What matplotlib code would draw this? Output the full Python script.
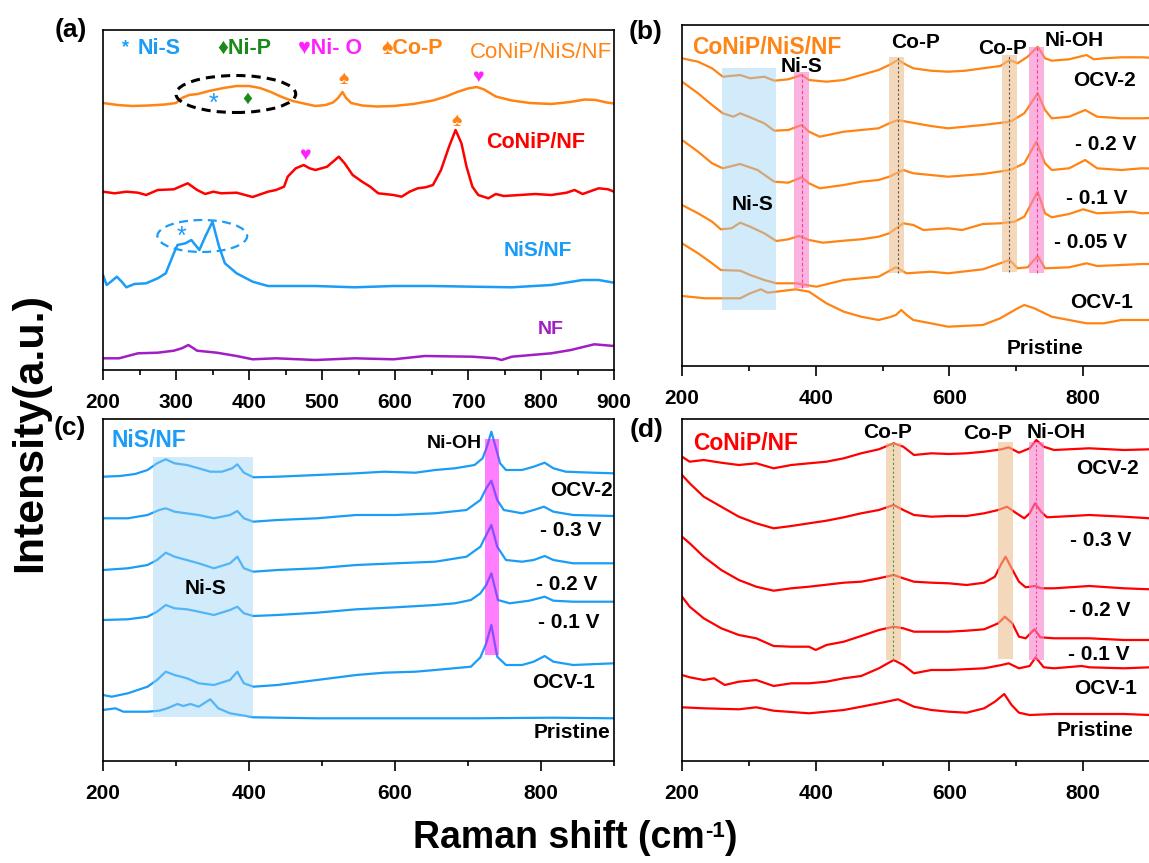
import matplotlib
matplotlib.use("Agg")
import matplotlib.pyplot as plt
from matplotlib.patches import Ellipse, Rectangle
from matplotlib.ticker import MultipleLocator

plt.rcParams["font.family"] = ["Liberation Sans", "DejaVu Sans"]
plt.rcParams["font.weight"] = "bold"

W, H = 1149, 863

ORANGE = "#ff8414"
RED = "#ff0000"
BLUE = "#1a9cf7"
PURPLE = "#a01ec4"
GREEN = "#1a8a1a"
MAGENTA = "#ff22ff"

# ---------------------------------------------------------------------------
# (a) reference spectra, stacked (a.u.)
# ---------------------------------------------------------------------------
A_CONIP_NIS_X = [200, 220, 240, 262, 285, 300, 308, 318, 330, 345, 365, 383, 400, 415, 430,
                 445, 460, 475, 491, 505, 515, 522, 528, 533, 540, 555, 575, 598, 625, 652,
                 670, 685, 700, 712, 722, 738, 760, 785, 814, 840, 860, 875, 890, 900]
A_CONIP_NIS_Y = [267, 265, 264, 264.5, 265.5, 267, 272, 275, 276, 279, 282, 284, 284, 282, 278,
                 273, 269, 266.5, 264, 265, 267.5, 272, 278, 272, 267, 264.5, 263.5, 264, 266, 269.5,
                 273.5, 278, 281.5, 283, 280.5, 273.5, 269.5, 267, 266, 268, 270.5, 270, 267.5, 266.5]

A_CONIP_X = [200, 216, 232, 248, 259, 275, 297, 316, 329, 340, 351, 362, 383, 405, 426, 437,
             448, 453, 464, 475, 483, 491, 507, 523, 531, 542, 555, 566, 577, 598, 609, 620,
             631, 642, 652, 663, 674, 683, 691, 698, 706, 714, 728, 738, 749, 771, 792, 814,
             835, 846, 857, 879, 892, 900]
A_CONIP_Y = [178.3, 176.7, 178.3, 177.3, 175, 180, 180.7, 186.7, 180, 176, 178.3, 176.7, 177.3, 173,
             178.3, 180, 183.3, 193.3, 201.7, 205, 201.7, 200, 203.3, 213.3, 206.7, 195, 188.3, 183.3,
             176.7, 175, 173.3, 178.3, 181.7, 182.7, 185, 200, 223.3, 240, 226.7, 203.3, 183.3, 175,
             171.7, 176, 174, 175, 176, 175, 177.3, 180, 176, 181.7, 180.7, 178.3]

A_NIS_X = [200, 205, 212, 219, 226, 232, 243, 259, 275, 286, 297, 302, 313, 321, 332, 340, 350,
           359, 367, 383, 405, 426, 491, 545, 598, 652, 706, 760, 814, 857, 879, 900]
A_NIS_Y = [95, 85, 89, 93.3, 88, 82.7, 86, 86.7, 91.7, 96.7, 116.7, 125, 126.7, 130, 120, 133.3, 148.3,
           123.3, 106.7, 96.7, 88.3, 84, 84, 82.7, 84, 84, 83.3, 82.7, 85, 90, 90, 87.3]

A_NF_X = [200, 222, 248, 275, 297, 308, 317, 329, 356, 383, 405, 437, 491, 545, 598, 641, 706,
          738, 746, 760, 814, 841, 873, 900]
A_NF_Y = [11.7, 11.7, 16.7, 17.3, 19.3, 21.7, 25, 19.3, 17.3, 14, 10.7, 11.7, 10, 11.7, 10.7, 14, 13.3,
          11.7, 10, 13.3, 16.7, 20, 25.7, 24]

# ---------------------------------------------------------------------------
# (b) CoNiP/NiS/NF in situ spectra
# ---------------------------------------------------------------------------
B_X1 = [200, 224, 245, 261, 287, 302, 323, 338, 359, 379, 390, 416, 442, 468, 494, 510, 523, 536,
        546, 572, 598, 624, 650, 676, 690, 702, 717, 732, 743, 753, 779, 805, 816, 831, 857, 888, 900]
B_OCV2 = [307.7, 304.3, 297.7, 289.3, 291, 287.7, 289.3, 285.3, 286.7, 291, 286, 284.3, 286, 291, 296,
          301, 306, 301, 297.7, 295.3, 294.3, 295.3, 297.7, 300, 306, 302.7, 309.3, 319.3, 307.7, 305.3,
          306.7, 311, 306.7, 307.7, 308.7, 308.7, 308.3]

B_X2 = [200, 224, 245, 261, 277, 287, 302, 323, 338, 359, 379, 390, 406, 442, 468, 494, 510, 523,
        536, 572, 598, 650, 691, 712, 732, 743, 753, 779, 803, 821, 857, 888, 900]
B_M02 = [284.3, 272.7, 261, 252.7, 249.3, 252.7, 248.7, 242.7, 235.3, 236, 241, 234.3, 229.3, 234.3,
         236, 237.7, 242.7, 246, 244.3, 240, 237.7, 241, 244.3, 252.7, 272.7, 256, 247.7, 249.3, 256,
         249.3, 247.7, 247.7, 248]

B_X3 = [200, 224, 245, 261, 287, 313, 338, 359, 379, 390, 406, 442, 468, 494, 510, 531, 546, 572,
        598, 650, 691, 712, 730, 743, 753, 779, 803, 821, 857, 888, 900]
B_M01 = [226, 214.3, 202.7, 197.7, 202, 196, 184.3, 183.3, 188.7, 182.7, 177.7, 181, 184.3, 186, 189.3,
         196, 192.7, 191, 189.3, 192, 196, 202.7, 224.3, 202.7, 196, 197.7, 206, 197.7, 196, 197.7, 197.5]

B_X4 = [200, 224, 245, 258, 274, 287, 302, 323, 341, 359, 375, 390, 411, 442, 468, 494, 510, 531,
        546, 561, 598, 619, 650, 676, 697, 712, 732, 743, 753, 779, 800, 821, 873, 888, 900]
B_M005 = [161, 152.7, 144.3, 136.7, 137.7, 143.3, 139.3, 132.7, 125, 126.7, 130, 126, 123.3, 125.3,
          126.7, 129.3, 132.7, 142.7, 141, 136, 137.7, 136, 142, 142.7, 144.3, 149.3, 174.3, 152.7,
          148.7, 152, 156.7, 152.7, 154.3, 152.7, 153]

B_X5 = [200, 224, 245, 258, 287, 302, 323, 341, 370, 401, 442, 494, 520, 536, 572, 598, 650, 676,
        690, 702, 717, 732, 743, 779, 805, 821, 857, 888, 900]
B_OCV1 = [122.7, 112.7, 102.7, 96, 95.3, 91, 86, 82.7, 82.7, 79.3, 86, 89.3, 98.7, 92.7, 94.3, 92.7,
          96.7, 102.7, 106, 97.7, 98.7, 110, 97.7, 98.7, 102.7, 100, 101, 102, 102]

B_X6 = [200, 235, 258, 287, 302, 318, 328, 341, 370, 390, 416, 442, 468, 494, 510, 520, 528, 536,
        546, 572, 598, 650, 676, 702, 712, 727, 753, 805, 831, 857, 888, 900]
B_PRIS = [70, 67.7, 67.7, 67.7, 72.7, 76.7, 73.3, 74.3, 76.7, 74.3, 62.7, 54.3, 49.3, 46, 48.7, 51, 56,
          51, 46, 42.7, 39.3, 41, 47.7, 57.7, 61, 57.7, 49.3, 42.7, 42.7, 46, 46, 46]

# ---------------------------------------------------------------------------
# (c) NiS/NF in situ spectra
# ---------------------------------------------------------------------------
C_X1 = [200, 223, 244, 261, 274, 286, 298, 315, 331, 347, 363, 377, 384, 393, 406, 439, 493, 547,
        585, 628, 655, 682, 709, 720, 726, 732, 739, 744, 752, 774, 790, 805, 817, 834, 871, 900]
C_OCV2 = [284.3, 285, 287, 291, 297.7, 301.7, 297.7, 296, 292.7, 289.3, 289.3, 292.7, 296.7, 288.3,
          283.7, 284.3, 286, 287.7, 289.3, 288.3, 291, 292.7, 296, 302.7, 314.3, 329.3, 311, 297.7,
          291, 291, 294.3, 298.3, 292.7, 289.3, 288.3, 287.7]

C_X2 = [200, 234, 261, 277, 286, 298, 331, 352, 374, 384, 393, 406, 439, 493, 547, 601, 655, 698,
        717, 725, 732, 740, 749, 774, 790, 804, 817, 844, 900]
C_M03 = [242.7, 242.7, 246, 251, 252.7, 249.3, 246, 242.7, 246, 250, 242.7, 239.3, 241, 242.7, 246,
         246, 247.7, 251, 261, 272.7, 280.3, 261, 251, 247.7, 251, 254.3, 249.3, 246, 245]

C_X3 = [200, 234, 261, 274, 286, 298, 331, 352, 374, 384, 393, 406, 439, 493, 547, 601, 655, 698,
        717, 725, 732, 740, 752, 774, 790, 805, 817, 844, 900]
C_M02 = [191, 192.7, 196, 201, 208.3, 204.3, 197.7, 192.7, 197.7, 204.3, 192.7, 189.3, 191, 192.7,
         196, 197.7, 199.3, 204.3, 214.3, 226, 236, 214.3, 201, 199.3, 201, 205, 201, 197.7, 197.7]

C_X4 = [200, 234, 261, 274, 286, 298, 315, 331, 352, 374, 384, 393, 406, 439, 493, 547, 601, 655,
        682, 704, 717, 725, 732, 741, 757, 784, 805, 817, 844, 900]
C_M01 = [141, 141.7, 144.3, 149.3, 156, 152.7, 151.7, 149.3, 146, 151, 154.3, 147.7, 145, 146, 148.3,
         151.7, 153.7, 156, 157.7, 161, 167.7, 176, 187.7, 161, 157.7, 160.3, 164.3, 160.3, 159.3, 159.3]

C_X5 = [200, 212, 234, 261, 274, 286, 298, 315, 331, 352, 374, 384, 393, 406, 439, 493, 547, 585,
        628, 655, 704, 717, 725, 732, 740, 752, 774, 790, 805, 817, 844, 900]
C_OCV1 = [66, 64.3, 67.7, 74.3, 81, 89.3, 86, 82.7, 77.7, 76, 81, 89.3, 77.7, 74.3, 76, 81, 86, 88.3,
          89.3, 91, 94.3, 103.7, 117.7, 136, 104.3, 96, 96, 99.3, 105, 99.3, 96, 97.7]

C_X6 = [200, 217, 228, 261, 277, 288, 302, 310, 320, 331, 347, 358, 374, 396, 406, 493, 601, 709,
        817, 900]
C_PRIS = [51, 52.7, 49.3, 49.3, 50.3, 52.7, 57, 55, 57, 54.3, 61.7, 52.7, 47.7, 45, 43.7, 42.7, 42.7,
          42.7, 43.3, 42.7]

# ---------------------------------------------------------------------------
# (d) CoNiP/NF in situ spectra
# ---------------------------------------------------------------------------
D_X1 = [200, 211.5, 232.5, 258.7, 285, 311, 337, 363.5, 390, 416, 442, 468, 494.5, 516.6, 531, 547,
        573, 599, 625.6, 652, 678, 688.5, 704, 720, 730, 741, 756.6, 809, 861, 900]
D_OCV2 = [304.3, 299.3, 301, 298.3, 296, 297.7, 292.7, 296, 297.7, 299.3, 302.7, 307.7, 311.7, 317.7,
          314.3, 306, 307.7, 307, 307.7, 309.3, 311.7, 313.7, 308.3, 312.7, 321, 314.3, 311, 312.7,
          311, 311.7]

D_X2 = [200, 211.5, 232.5, 258.7, 285, 311, 337, 363.5, 390, 416, 442, 468, 494.5, 516.6, 531, 547,
        573, 599, 625.6, 652, 673, 686, 699, 712, 720, 728, 737, 746, 783, 809, 861, 900]
D_M03 = [286, 277.7, 264.3, 254.3, 244.3, 237.7, 232.7, 235, 237.7, 240.3, 243.7, 247.7, 251, 256,
         251, 246, 244.3, 245, 245, 247.7, 251, 254.3, 248.3, 242.7, 247.7, 257.7, 249.3, 243.7, 245,
         246, 244.3, 242.7]

D_X3 = [200, 211.5, 232.5, 258.7, 285, 311, 337, 363.5, 390, 442, 468, 494.5, 516.6, 531, 547, 573,
        599, 625.6, 652, 668, 678, 684, 693, 704, 714, 728, 737, 756.6, 809, 861, 900]
D_M02 = [224.3, 217.7, 204.3, 191, 181, 174.3, 170.3, 172.7, 174.3, 178.3, 179.3, 182.7, 186, 182.7,
         179.3, 178.3, 177.7, 176, 178.3, 184.3, 197.7, 204.3, 192.7, 179.3, 173.7, 175, 172.7, 172.7,
         175, 172.7, 171.7]

D_X4 = [200, 211.5, 232.5, 258.7, 285, 311, 337, 363.5, 390, 400, 416, 442, 468, 494.5, 516.6, 531,
        547, 599, 625.6, 652, 673, 683, 694, 704, 714, 727, 736, 756.6, 809, 861, 900]
D_M01 = [164.3, 154.3, 142.7, 132.7, 126, 122.7, 115, 114.3, 114.3, 111, 116, 119.3, 125, 131, 134.3,
         132.7, 129.3, 129.3, 130.3, 131.7, 137.7, 144.3, 137.7, 124.3, 122.7, 131.7, 123.7, 122.7,
         122.7, 121, 121]

D_X5 = [200, 211.5, 232.5, 248, 264, 285, 311, 337, 363.5, 390, 416, 442, 468, 494.5, 516.6, 531,
        547, 573, 599, 652, 678, 688.5, 704, 720, 729, 741, 756.6, 798, 809, 861, 900]
D_OCV1 = [86, 83.7, 81, 82.7, 76, 79.3, 81, 75, 77.7, 77.7, 79.3, 82.7, 85, 92.7, 101, 96, 87.7, 91,
          91, 92.7, 96, 97.7, 92.7, 95, 103.7, 93.7, 92.7, 95, 93.7, 92.7, 93.7]

D_X6 = [200, 232.5, 285, 311, 337, 390, 442, 468, 494.5, 523, 536, 547, 573, 599, 625.6, 652, 668,
        682, 693, 704, 720, 756.6, 809, 861, 900]
D_PRIS = [53.7, 52.7, 51.7, 53.7, 50.3, 47.7, 51, 54.3, 57.7, 61.7, 57.7, 54.3, 51, 49.3, 48.3, 52.7,
          59.3, 67, 56, 48.3, 46, 47, 47, 47, 46]

SPECTRUM_LABELS_B = ["OCV-2", "- 0.2 V", "- 0.1 V", "- 0.05 V", "OCV-1", "Pristine"]
SPECTRUM_LABELS_C = ["OCV-2", "- 0.3 V", "- 0.2 V", "- 0.1 V", "OCV-1", "Pristine"]
SPECTRUM_LABELS_D = ["OCV-2", "- 0.3 V", "- 0.2 V", "- 0.1 V", "OCV-1", "Pristine"]

fig = plt.figure(figsize=(W / 100, H / 100), dpi=100)


def make_axes(left, top, right, bottom, major, minor):
    """Axes placed by pixel box; y has no ticks (arbitrary intensity)."""
    ax = fig.add_axes([left / W, 1 - bottom / H, (right - left) / W, (bottom - top) / H])
    ax.set_xlim(200, 900)
    ax.set_ylim(0, bottom - top)
    ax.set_yticks([])
    ax.xaxis.set_major_locator(MultipleLocator(major))
    ax.xaxis.set_minor_locator(MultipleLocator(minor))
    ax.tick_params(axis="x", which="major", direction="out", length=7, width=1.2,
                   labelsize=15, pad=9.5)
    ax.tick_params(axis="x", which="minor", direction="out", length=3.6, width=1.2)
    for sp in ax.spines.values():
        sp.set_linewidth(1.2)
    return ax


def band(ax, x0, x1, y0, y1, color, alpha):
    ax.add_patch(Rectangle((x0, y0), x1 - x0, y1 - y0, facecolor=color, edgecolor="none",
                           alpha=alpha, zorder=3))


def label(ax, x, y, s, size=15, color="black", ha="center", weight="bold"):
    ax.text(x, y, s, fontsize=size, color=color, ha=ha, va="center", fontweight=weight, zorder=5)


# ----------------------------- panel (a) -----------------------------------
ax_a = make_axes(103, 30, 614, 370, 100, 50)
ax_a.plot(A_CONIP_NIS_X, A_CONIP_NIS_Y, color=ORANGE, lw=1.8)
ax_a.plot(A_CONIP_X, A_CONIP_Y, color=RED, lw=1.8)
ax_a.plot(A_NIS_X, A_NIS_Y, color=BLUE, lw=1.8)
ax_a.plot(A_NF_X, A_NF_Y, color=PURPLE, lw=1.8)

label(ax_a, 231, 322, "*", size=13, color=BLUE)
label(ax_a, 248, 322, "Ni-S", size=15.5, color=BLUE, ha="left")
label(ax_a, 356, 322, "♦Ni-P", size=15.5, color=GREEN, ha="left")
label(ax_a, 467, 322, "♥Ni- O", size=15.5, color=MAGENTA, ha="left")
label(ax_a, 581, 322, "♠Co-P", size=15.5, color=ORANGE, ha="left")
label(ax_a, 898, 317, "CoNiP/NiS/NF", size=16, color=ORANGE, ha="right", weight="normal")

label(ax_a, 529, 290, "♠", size=14, color=ORANGE)
label(ax_a, 714, 293, "♥", size=14, color=MAGENTA)
label(ax_a, 398, 271, "♦", size=14, color=GREEN)
label(ax_a, 352, 266, "*", size=18, color=BLUE, weight="normal")
ax_a.add_patch(Ellipse((382, 276), 164, 37, fill=False, edgecolor="black", lw=2.2,
                       ls=(0, (3, 2)), zorder=4))

label(ax_a, 476, 215, "♥", size=14, color=MAGENTA)
label(ax_a, 685, 248, "♠", size=14, color=ORANGE)
label(ax_a, 792, 227, "CoNiP/NF", size=15.5, color=RED)

ax_a.add_patch(Ellipse((336, 134), 123, 32, fill=False, edgecolor=BLUE, lw=1.6,
                       ls=(0, (4, 2.5)), zorder=4))
label(ax_a, 308, 133, "*", size=18, color=BLUE, weight="normal")
label(ax_a, 795, 120, "NiS/NF", size=15, color=BLUE)
label(ax_a, 813, 40, "NF", size=14, color=PURPLE)

# ----------------------------- panel (b) -----------------------------------
ax_b = make_axes(682, 25, 1150, 366, 200, 100)
ax_b.spines["right"].set_visible(False)
for xs, ys in [(B_X1, B_OCV2), (B_X2, B_M02), (B_X3, B_M01), (B_X4, B_M005),
               (B_X5, B_OCV1), (B_X6, B_PRIS)]:
    ax_b.plot(xs, ys, color=ORANGE, lw=1.6, zorder=2)

band(ax_b, 260, 341, 56, 297.7, "#99d3f7", 0.45)
band(ax_b, 368, 390, 78, 294.3, "#f77fc8", 0.6)
band(ax_b, 509, 532, 93, 309.3, "#eebf8f", 0.6)
band(ax_b, 678, 701, 94.3, 311, "#eebf8f", 0.6)
band(ax_b, 719, 742, 92.7, 318.7, "#f77fc8", 0.6)
ax_b.plot([379, 379], [78, 294.3], color="#ff3aa0", lw=0.8, ls=(0, (3, 2)), zorder=4)
ax_b.plot([523, 523], [93, 309.3], color="#555555", lw=0.8, ls=(0, (2, 2)), zorder=4)
ax_b.plot([689, 689], [94.3, 311], color="#555555", lw=0.8, ls=(0, (2, 2)), zorder=4)
ax_b.plot([731, 731], [92.7, 318.7], color="#ff3aa0", lw=0.8, ls=(0, (3, 2)), zorder=4)

label(ax_b, 215, 319, "CoNiP/NiS/NF", size=16.5, color=ORANGE, ha="left")
label(ax_b, 379, 299, "Ni-S")
label(ax_b, 550, 323, "Co-P")
label(ax_b, 679, 318, "Co-P")
label(ax_b, 786, 326, "Ni-OH")
label(ax_b, 305, 161, "Ni-S")
for text, (lx, ly) in zip(SPECTRUM_LABELS_B,
                          [(832, 286), (833, 221), (821, 168), (811, 123), (828, 64), (743, 18)]):
    label(ax_b, lx, ly, text)

# ----------------------------- panel (c) -----------------------------------
ax_c = make_axes(103, 419, 614, 761, 200, 100)
for xs, ys in [(C_X1, C_OCV2), (C_X2, C_M03), (C_X3, C_M02), (C_X4, C_M01),
               (C_X5, C_OCV1), (C_X6, C_PRIS)]:
    ax_c.plot(xs, ys, color=BLUE, lw=1.6, zorder=2)

band(ax_c, 269, 405, 43.7, 303.7, "#99d3f7", 0.45)
band(ax_c, 723, 742, 106, 321.7, "#ff00ff", 0.5)

label(ax_c, 212, 321, "NiS/NF", size=16.5, color=BLUE, ha="left")
label(ax_c, 719, 318, "Ni-OH", size=14, ha="right")
label(ax_c, 340, 173, "Ni-S")
for text, (lx, ly) in zip(SPECTRUM_LABELS_C,
                          [(855, 271), (840, 231), (835, 176), (838, 138), (831, 78), (842, 28)]):
    label(ax_c, lx, ly, text)

# ----------------------------- panel (d) -----------------------------------
ax_d = make_axes(682, 419, 1150, 761, 200, 100)
ax_d.spines["right"].set_visible(False)
for xs, ys in [(D_X1, D_OCV2), (D_X2, D_M03), (D_X3, D_M02), (D_X4, D_M01),
               (D_X5, D_OCV1), (D_X6, D_PRIS)]:
    ax_d.plot(xs, ys, color=RED, lw=1.6, zorder=2)

band(ax_d, 505, 527, 101, 318.3, "#eebf8f", 0.6)
band(ax_d, 673, 695, 101.7, 319.3, "#eebf8f", 0.6)
band(ax_d, 719, 742, 101, 319.3, "#f77fc8", 0.6)
ax_d.plot([516, 516], [101, 318.3], color="#3aa03a", lw=0.8, ls=(0, (2, 2)), zorder=4)
ax_d.plot([730, 730], [101, 319.3], color="#ff3aa0", lw=0.8, ls=(0, (2, 2)), zorder=4)

label(ax_d, 217, 318, "CoNiP/NF", size=16.5, color=RED, ha="left")
label(ax_d, 507, 329, "Co-P")
label(ax_d, 657, 328, "Co-P")
label(ax_d, 759, 329, "Ni-OH")
for text, (lx, ly) in zip(SPECTRUM_LABELS_D,
                          [(836, 293), (826, 221), (825, 151), (823, 106), (834, 73), (818, 31)]):
    label(ax_d, lx, ly, text)

# ----------------------------- figure labels -------------------------------
for tag, (px, py) in zip(["(a)", "(b)", "(c)", "(d)"],
                         [(71, 30), (646, 32), (70, 428), (647, 430)]):
    fig.text(px / W, 1 - py / H, tag, fontsize=19, fontweight="bold", ha="center", va="center")

fig.text(30 / W, 1 - 432 / H, "Intensity(a.u.)", fontsize=31, fontweight="bold",
         rotation=90, ha="center", va="center")

# x label built from pieces so the superscript keeps a plain hyphen
renderer = fig.canvas.get_renderer()
pieces = [("Raman shift (cm", 27, 0), ("-1", 16, 11), (")", 27, 0)]
texts = [fig.text(0, 0, s, fontsize=fs, fontweight="bold", ha="left", va="baseline")
         for s, fs, _ in pieces]
widths = [t.get_window_extent(renderer).width for t in texts]
x_px = 575 - sum(widths) / 2
baseline_px = 848
for t, (_, _, rise), w in zip(texts, pieces, widths):
    t.set_position((x_px / W, 1 - (baseline_px - rise) / H))
    x_px += w

fig.savefig("out.png", dpi=100)
